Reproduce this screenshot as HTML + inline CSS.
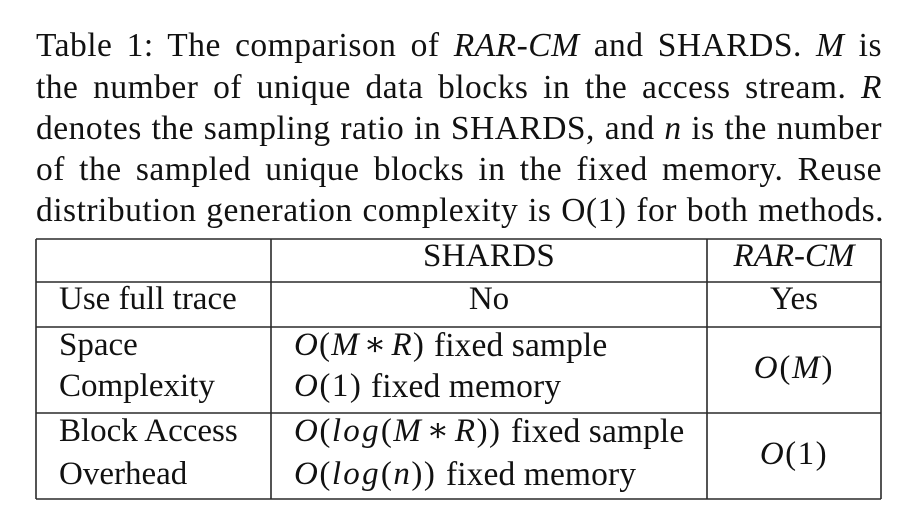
<!DOCTYPE html>
<html>
<head>
<meta charset="utf-8">
<style>
  html, body { margin: 0; padding: 0; background: #fff; }
  body { width: 916px; height: 524px; position: relative; overflow: hidden;
         font-family: "Liberation Serif", "DejaVu Serif", serif; color: #111; }
  .t { position: absolute; font-size: 33px; line-height: 33px; white-space: nowrap; }
  .w { position: absolute; font-size: 33.5px; line-height: 33px; white-space: nowrap; letter-spacing: 0.1px; }
  .m { position: absolute; font-size: 33px; line-height: 33px; white-space: nowrap; }
  .cap { position: absolute; left: 36px; width: 846px; font-size: 33.5px; line-height: 33px;
         letter-spacing: 0.5px;
         text-align: justify; text-align-last: justify; white-space: nowrap; }
  .c { text-align: center; }
  i { font-style: italic; }
  .op { font-style: normal; }
</style>
</head>
<body>
<!-- caption -->
<div class="cap" style="top:29.2px;">Table 1: The comparison of <i>RAR-CM</i> and SHARDS. <i>M</i> is</div>
<div class="cap" style="top:70.7px;">the number of unique data blocks in the access stream. <i>R</i></div>
<div class="cap" style="top:112.2px;">denotes the sampling ratio in SHARDS, and <i>n</i> is the number</div>
<div class="cap" style="top:153.2px;">of the sampled unique blocks in the fixed memory. Reuse</div>
<div class="cap" style="top:194.2px; width:848px;">distribution generation complexity is O(1) for both methods.</div>

<!-- table lines -->
<svg width="916" height="524" style="position:absolute;left:0;top:0;" xmlns="http://www.w3.org/2000/svg">
  <g stroke="#2a2a2a" stroke-width="1.6" fill="none">
    <line x1="36" y1="239" x2="881" y2="239"/>
    <line x1="36" y1="282" x2="881" y2="282"/>
    <line x1="36" y1="327" x2="881" y2="327"/>
    <line x1="36" y1="413" x2="881" y2="413"/>
    <line x1="36" y1="499" x2="881" y2="499"/>
    <line x1="36" y1="239" x2="36" y2="499"/>
    <line x1="271" y1="239" x2="271" y2="499"/>
    <line x1="707" y1="239" x2="707" y2="499"/>
    <line x1="881" y1="239" x2="881" y2="499"/>
  </g>
</svg>

<!-- header row -->
<div class="t c" style="left:271px; width:436px; top:240.4px; letter-spacing:0.3px;">SHARDS</div>
<div class="t c" style="left:707px; width:174px; top:240.4px;"><i>RAR-CM</i></div>

<!-- row: use full trace -->
<div class="t" style="left:59px; top:283.4px;">Use full trace</div>
<div class="t c" style="left:271px; width:436px; top:283.4px;">No</div>
<div class="t c" style="left:707px; width:174px; top:283.4px;">Yes</div>

<!-- row: space complexity -->
<div class="t" style="left:59px; top:329px;">Space</div>
<div class="t" style="left:59px; top:370.4px;">Complexity</div>
<div class="m" style="left:294px; top:329px; letter-spacing:1.2px;"><i>O</i>(<i>M</i>&#8202;<span class="op">∗</span>&#8202;<i>R</i>)</div>
<div class="w" style="left:434px; top:328.8px;">fixed sample</div>
<div class="m" style="left:294px; top:370.4px; letter-spacing:1.5px;"><i>O</i>(1)</div>
<div class="w" style="left:371px; top:370.2px;">fixed memory</div>
<div class="t c" style="left:707px; width:174px; top:352.4px; letter-spacing:1.8px;"><i>O</i>(<i>M</i>)</div>

<!-- row: block access overhead -->
<div class="t" style="left:59px; top:415.4px;">Block Access</div>
<div class="t" style="left:59px; top:458.4px;">Overhead</div>
<div class="m" style="left:294px; top:415.4px; letter-spacing:1.5px;"><i>O</i>(<i style="letter-spacing:2.3px;">log</i>(<i>M</i>&#8202;<span class="op">∗</span>&#8202;<i>R</i>))</div>
<div class="w" style="left:511px; top:415.2px;">fixed sample</div>
<div class="m" style="left:294px; top:458.4px; letter-spacing:1.5px;"><i>O</i>(<i style="letter-spacing:2.3px;">log</i>(<i>n</i>))</div>
<div class="w" style="left:446px; top:458.2px;">fixed memory</div>
<div class="t c" style="left:707px; width:174px; top:438.4px; letter-spacing:1.5px;"><i>O</i>(1)</div>
</body>
</html>
